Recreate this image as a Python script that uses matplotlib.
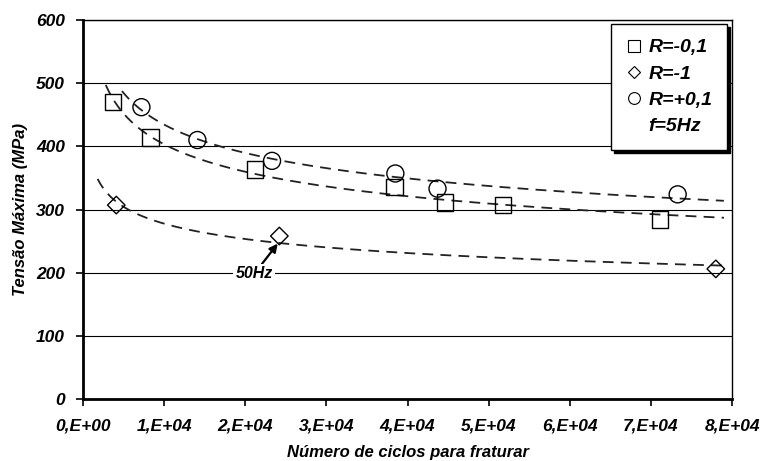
import numpy as np
import matplotlib
matplotlib.use('Agg')
import matplotlib.pyplot as plt
from matplotlib.lines import Line2D

plt.rcParams['font.family'] = ['Liberation Sans', 'DejaVu Sans']
plt.rcParams['font.weight'] = 'bold'
plt.rcParams['font.style'] = 'italic'
plt.rcParams['axes.labelweight'] = 'bold'

# data
ciclos_r01n = [3700, 8300, 21200, 38400, 44600, 51800, 71100]
tensao_r01n = [470, 414, 363, 336, 311, 307, 284]

ciclos_r1 = [4100, 24200, 78000]
tensao_r1 = [307, 258, 206]

ciclos_r01p = [7200, 14100, 23300, 38500, 43700, 73300]
tensao_r01p = [462, 410, 377, 357, 333, 324]

xticks = np.arange(0, 80001, 10000)
xlabels = ['0,E+00', '1,E+04', '2,E+04', '3,E+04', '4,E+04',
           '5,E+04', '6,E+04', '7,E+04', '8,E+04']
yticks = np.arange(0, 601, 100)


def power_trend(x, y, x0, x1):
    # Excel-style power trendline y = a*x^b
    b, lna = np.polyfit(np.log(x), np.log(y), 1)
    xs = np.linspace(x0, x1, 200)
    return xs, np.exp(lna) * xs ** b


fig = plt.figure(figsize=(7.63, 4.61), dpi=100)
ax = fig.add_axes([0.1088, 0.1345, 0.8506, 0.8221])

dash = dict(color='#222222', lw=1.3, dashes=(6, 4))
xs, ys = power_trend(ciclos_r01n, tensao_r01n, 2800, 79000)
ax.plot(xs, ys, **dash)
xs, ys = power_trend(ciclos_r1, tensao_r1, 1800, 79000)
ax.plot(xs, ys, **dash)
xs, ys = power_trend(ciclos_r01p, tensao_r01p, 4800, 79000)
ax.plot(xs, ys, **dash)

ax.scatter(ciclos_r01n, tensao_r01n, marker='s', s=140, facecolors='none',
           edgecolors='black', linewidths=1.0, zorder=3)
ax.scatter(ciclos_r1, tensao_r1, marker='D', s=80, facecolors='none',
           edgecolors='black', linewidths=1.0, zorder=3)
ax.scatter(ciclos_r01p, tensao_r01p, marker='o', s=150, facecolors='none',
           edgecolors='black', linewidths=1.0, zorder=3)

ax.annotate('50Hz', xy=(24000, 246), xytext=(21100, 198), fontsize=11.5,
            ha='center', va='center',
            bbox=dict(boxstyle='square,pad=0.15', fc='white', ec='none'),
            arrowprops=dict(arrowstyle='-|>', color='black', lw=1.6,
                            mutation_scale=12, shrinkA=0, shrinkB=0))

ax.set_xlim(0, 80000)
ax.set_ylim(0, 600)
ax.set_xticks(xticks)
ax.set_xticklabels(xlabels)
ax.set_yticks(yticks)
ax.tick_params(axis='both', labelsize=12.5, direction='out', length=5,
               width=1.2, colors='black')
ax.tick_params(axis='x', pad=9)
ax.tick_params(axis='y', pad=8)
ax.yaxis.grid(True, color='black', lw=0.8)
ax.set_axisbelow(True)
for side in ['top', 'right']:
    ax.spines[side].set_linewidth(1.0)
for side in ['left', 'bottom']:
    ax.spines[side].set_linewidth(2.0)

ax.set_xlabel('Número de ciclos para fraturar', fontsize=12, labelpad=8)
ax.set_ylabel('Tensão Máxima (MPa)', fontsize=12, labelpad=6)

handles = [
    Line2D([], [], marker='s', ls='none', mfc='none', mec='black', ms=8, mew=0.8),
    Line2D([], [], marker='D', ls='none', mfc='none', mec='black', ms=6, mew=0.8),
    Line2D([], [], marker='o', ls='none', mfc='none', mec='black', ms=8.5, mew=0.8),
    Line2D([], [], ls='none'),
]
labels = ['R=-0,1', 'R=-1', 'R=+0,1', 'f=5Hz']
leg = ax.legend(handles, labels, loc='upper right',
                bbox_to_anchor=(0.992, 0.989), borderaxespad=0,
                fontsize=14, handlelength=0.8, handletextpad=0.35,
                labelspacing=0.45, borderpad=0.75, fancybox=False,
                framealpha=1, edgecolor='black',
                shadow={'color': 'black', 'alpha': 1, 'shade': 0})
leg.get_frame().set_linewidth(1.0)

fig.savefig('out.png', dpi=100)
